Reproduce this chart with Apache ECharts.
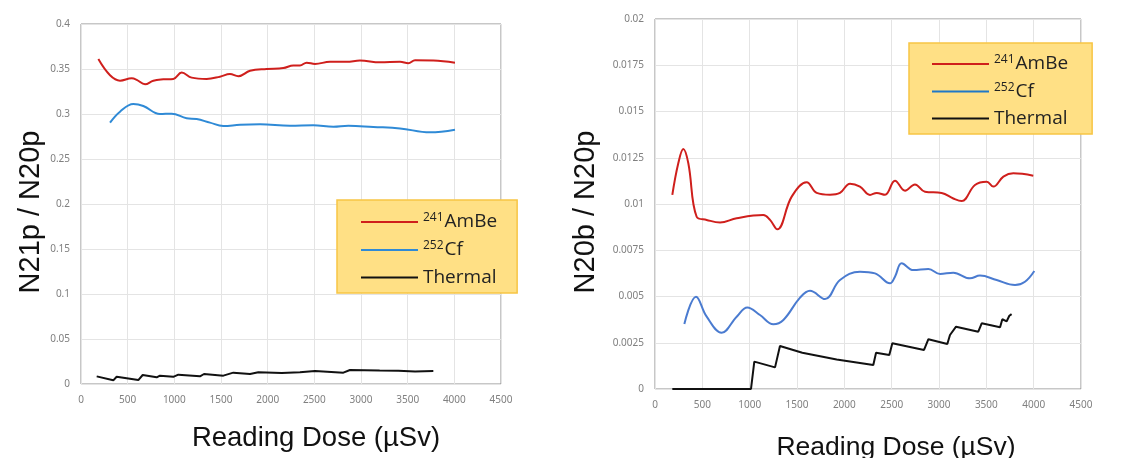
<!DOCTYPE html>
<html>
<head>
<meta charset="utf-8">
<script src="https://cdn.jsdelivr.net/npm/echarts@6/dist/echarts.min.js"></script>
<style>
  html, body { margin: 0; padding: 0; background: #fff; }
  #chart { width: 1126px; height: 458px; }
</style>
</head>
<body>
<div id="chart"></div>
<script>
// left panel: N21p / N20p
const leftAmBe = [[186,0.361],[311,0.343],[418,0.337],[543,0.3396],[597,0.338],[686,0.333],[775,0.337],[882,0.3385],[989,0.339],[1079,0.346],[1186,0.3404],[1346,0.339],[1489,0.3415],[1596,0.3444],[1686,0.342],[1811,0.348],[1989,0.350],[2168,0.351],[2275,0.354],[2346,0.354],[2418,0.357],[2507,0.3556],[2668,0.358],[2846,0.358],[2989,0.3594],[3204,0.3574],[3418,0.358],[3507,0.3563],[3579,0.3597],[3775,0.3595],[4007,0.357]];
const leftCf = [[311,0.2904],[418,0.3026],[561,0.3111],[668,0.3089],[846,0.300],[971,0.3004],[1132,0.2952],[1239,0.2944],[1382,0.2904],[1525,0.2867],[1704,0.288],[1918,0.2885],[2239,0.287],[2489,0.2874],[2704,0.2859],[2864,0.287],[3132,0.2856],[3418,0.284],[3739,0.2796],[4007,0.2826]];
const leftThermal = [[168,0.0085],[346,0.0041],[382,0.0081],[614,0.0044],[661,0.010],[811,0.0074],[846,0.0093],[989,0.008],[1043,0.0104],[1275,0.0085],[1318,0.0111],[1525,0.0093],[1632,0.0126],[1811,0.0111],[1900,0.013],[2150,0.0122],[2346,0.013],[2507,0.0144],[2811,0.0126],[2882,0.0156],[3200,0.015],[3400,0.0148],[3579,0.014],[3775,0.0144]];

// right panel: N20b / N20p
const rightAmBe = [[183,0.01049],[246,0.0122],[299,0.01297],[352,0.0122],[440,0.00931],[546,0.00914],[687,0.0090],[863,0.00923],[1144,0.0094],[1215,0.00914],[1292,0.00863],[1444,0.0104],[1602,0.01117],[1708,0.0106],[1849,0.0105],[1954,0.0106],[2060,0.0111],[2165,0.01094],[2271,0.01049],[2342,0.0106],[2430,0.0105],[2535,0.01126],[2641,0.01072],[2746,0.01106],[2852,0.01066],[3028,0.0106],[3151,0.0103],[3239,0.01016],[3380,0.01103],[3504,0.0112],[3574,0.01094],[3680,0.01148],[3785,0.01166],[3996,0.01153]];
const rightCf = [[310,0.00351],[433,0.00499],[546,0.00391],[704,0.00304],[863,0.00391],[975,0.00441],[1109,0.0040],[1250,0.0035],[1356,0.00373],[1532,0.00494],[1637,0.00531],[1796,0.00486],[1954,0.00589],[2165,0.00634],[2324,0.00625],[2482,0.00571],[2535,0.00607],[2606,0.0068],[2729,0.00643],[2888,0.00649],[3011,0.00622],[3151,0.00629],[3327,0.00598],[3433,0.00613],[3609,0.00589],[3803,0.00562],[3908,0.0058],[4007,0.00638]];
const rightThermal = [[183,0],[1014,0],[1049,0.00148],[1268,0.00117],[1320,0.00232],[1556,0.00196],[1919,0.0016],[2306,0.0013],[2335,0.00196],[2475,0.00184],[2507,0.00247],[2842,0.00211],[2888,0.00269],[3088,0.00243],[3116,0.00292],[3130,0.00295],[3180,0.00337],[3415,0.0031],[3451,0.00355],[3645,0.00334],[3669,0.00377],[3715,0.00366],[3743,0.00396],[3767,0.00405]];

const xTicks = [0, 4500, 500];
const leftYTicks = [0, 0.4, 0.05];
const rightYTicks = [0, 0.02, 0.0025];
const legendNames = ["241AmBe", "252Cf", "Thermal"];

const RED = "#cf1f1c", BLUE_L = "#2f8ad6", BLUE_R = "#4a7bd0", BLACK = "#111111";

const labelStyle = { fontFamily: "Noto Sans", fontSize: 10, color: "#808080" };
const titleStyle = { fontFamily: "Liberation Sans", color: "#111" };

function legendFormatter(name) {
  if (name === "Thermal") return "{main|Thermal}";
  return "{sup|" + name.slice(0, 3) + "}{main|" + name.slice(3) + "}";
}
function legendBox(left, top, pad, gap) {
  return {
    orient: "vertical",
    left: left,
    top: top,
    padding: pad,
    itemGap: gap,
    itemWidth: 57,
    itemHeight: 20,
    itemTextGap: 11,
    backgroundColor: "#ffe085",
    borderColor: "#f7c544",
    borderWidth: 1.5,
    borderRadius: 0,
    selectedMode: false,
    itemStyle: { opacity: 0 },
    formatter: legendFormatter,
    textStyle: {
      rich: {
        main: { fontFamily: "Open Sans", fontSize: 19, color: "#222", lineHeight: 20 },
        sup: { fontFamily: "Open Sans", fontSize: 12, color: "#222", lineHeight: 12, verticalAlign: "top", padding: [0, 1, 8, 0] },
      },
    },
  };
}
function xAxisOf(gridIndex, gap, shift, size) {
  return {
    gridIndex: gridIndex,
    type: "value",
    min: xTicks[0], max: xTicks[1], interval: xTicks[2],
    axisLine: { show: false },
    axisTick: { show: false },
    splitLine: { show: true, lineStyle: { color: "#e4e4e4" } },
    axisLabel: Object.assign({ margin: 11, formatter: function (v) { return String(v); } }, labelStyle),
    name: "Reading Dose (\u00b5Sv)",
    nameLocation: "middle",
    nameGap: gap,
    nameTextStyle: Object.assign({}, titleStyle, { fontSize: size, verticalAlign: "top", padding: [0, 0, 0, shift] }),
  };
}
function yAxisOf(gridIndex, ticks, name, gap, digits) {
  return {
    gridIndex: gridIndex,
    type: "value",
    min: ticks[0], max: ticks[1], interval: ticks[2],
    axisLine: { show: false },
    axisTick: { show: false },
    splitLine: { show: true, lineStyle: { color: "#e4e4e4" } },
    axisLabel: Object.assign({
      margin: 11,
      formatter: function (v) { return String(+v.toFixed(digits)); },
    }, labelStyle),
    name: name,
    nameLocation: "middle",
    nameGap: gap,
    nameRotate: 90,
    nameTextStyle: Object.assign({}, titleStyle, { fontSize: 29, padding: [0, 16, 0, 0] }),
  };
}
function lineOf(name, data, color, xi, smooth) {
  return {
    name: name,
    type: "line",
    xAxisIndex: xi,
    yAxisIndex: xi,
    data: data,
    smooth: smooth,
    symbol: "none",
    showSymbol: false,
    animation: false,
    lineStyle: { color: color, width: 2 },
    itemStyle: { color: color },
  };
}

let myChart = echarts.init(document.getElementById("chart"), null, { renderer: "canvas" });
let option = {
  backgroundColor: "#ffffff",
  animation: false,
  grid: [
    { left: 81, top: 24, width: 420, height: 360, show: true, borderColor: "#8f8f8f", borderWidth: 1, backgroundColor: "transparent", outerBoundsMode: "none", containLabel: false },
    { left: 655, top: 19, width: 426, height: 370, show: true, borderColor: "#8f8f8f", borderWidth: 1, backgroundColor: "transparent", outerBoundsMode: "none", containLabel: false },
  ],
  legend: [
    Object.assign(legendBox(337, 200, [12, 20, 6, 23], 8), {
      data: [
        { name: legendNames[0], lineStyle: { color: RED, width: 2 } },
        { name: legendNames[1], lineStyle: { color: BLUE_L, width: 2 } },
        { name: legendNames[2], lineStyle: { color: BLACK, width: 2 } },
      ],
    }),
    Object.assign(legendBox(909, 43, [11, 24, 6, 22], 7.5), {
      data: [
        { name: legendNames[0], lineStyle: { color: RED, width: 2 } },
        { name: legendNames[1], lineStyle: { color: "#1f78c8", width: 2 } },
        { name: legendNames[2], lineStyle: { color: BLACK, width: 2 } },
      ],
    }),
  ],
  xAxis: [xAxisOf(0, 40, 50, 27.5), xAxisOf(1, 45, 56, 26.5)],
  yAxis: [
    yAxisOf(0, leftYTicks, "N21p / N20p", 36, 2),
    yAxisOf(1, rightYTicks, "N20b / N20p", 55, 4),
  ],
  series: [
    lineOf(legendNames[0], leftAmBe, RED, 0, 0.4),
    lineOf(legendNames[1], leftCf, BLUE_L, 0, 0.4),
    lineOf(legendNames[2], leftThermal, BLACK, 0, false),
    lineOf(legendNames[0], rightAmBe, RED, 1, 0.4),
    lineOf(legendNames[1], rightCf, BLUE_R, 1, 0.4),
    lineOf(legendNames[2], rightThermal, BLACK, 1, false),
  ],
};
myChart.setOption(option);
window.onresize = myChart.resize;
</script>
</body>
</html>
